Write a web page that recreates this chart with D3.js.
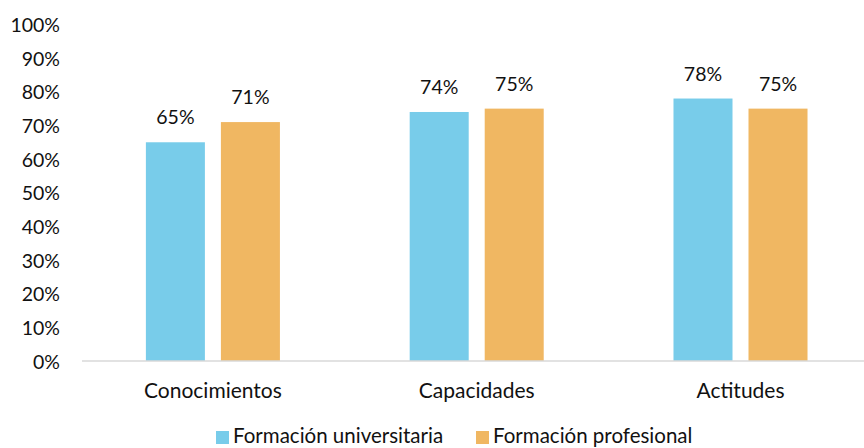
<!DOCTYPE html>
<html>
<head>
<meta charset="utf-8">
<script src="https://cdn.jsdelivr.net/npm/d3@7"></script>
<style>
  html, body { margin: 0; padding: 0; background: #fff; }
  svg { display: block; font-family: Lato, "Noto Sans", sans-serif; }
</style>
</head>
<body>
<svg id="chart" width="864" height="448"></svg>
<script>
// Competence areas and percentages for each type of training
const categories = ["Conocimientos", "Capacidades", "Actitudes"];
const seriesNames = ["Formación universitaria", "Formación profesional"];
const universitaria = [65, 74, 78];
const profesional = [71, 75, 75];
const yTicks = [0, 10, 20, 30, 40, 50, 60, 70, 80, 90, 100];
const colors = ["#78CCEA", "#F0B762"];

const seriesValues = [universitaria, profesional];
const rows = categories.map((c, i) => ({
  category: c,
  values: seriesNames.map((s, j) => ({ series: s, value: seriesValues[j][i] }))
}));

const svg = d3.select("#chart");
const W = 864;
const textColor = "#111";

const x0 = d3.scaleBand().domain(categories).range([81, 872.4]).padding(0);
const x1 = d3.scaleBand().domain(seriesNames).range([0, x0.bandwidth()])
  .paddingInner(16 / 75).paddingOuter(0.865);
const y = d3.scaleLinear().domain([0, 100]).range([361, 24.5]);
const color = d3.scaleOrdinal().domain(seriesNames).range(colors);

// Y axis labels (no line, no ticks)
const yAxis = d3.axisLeft(y).tickValues(yTicks).tickSize(0).tickPadding(0)
  .tickFormat(d => d + "%");
const yg = svg.append("g").attr("transform", "translate(60,0)").call(yAxis);
yg.select(".domain").remove();
yg.selectAll("text")
  .attr("font-family", "Lato, sans-serif")
  .attr("font-size", 19.5)
  .attr("fill", textColor)
  .attr("dy", "0.36em");

// Bars
const groups = svg.append("g").selectAll("g").data(rows).join("g")
  .attr("transform", d => `translate(${x0(d.category)},0)`);

groups.selectAll("rect").data(d => d.values).join("rect")
  .attr("x", d => x1(d.series))
  .attr("width", x1.bandwidth())
  .attr("y", d => y(d.value))
  .attr("height", d => y(0) - y(d.value))
  .attr("fill", d => color(d.series));

// Value labels
groups.selectAll("text.val").data(d => d.values).join("text")
  .attr("class", "val")
  .attr("x", d => x1(d.series) + x1.bandwidth() / 2)
  .attr("y", d => y(d.value) - 18)
  .attr("text-anchor", "middle")
  .attr("font-size", 19.5)
  .attr("fill", textColor)
  .text(d => d.value + "%");

// Category axis
const xAxis = d3.axisBottom(x0).tickSize(0).tickPadding(0);
const xg = svg.append("g").attr("transform", `translate(0,${y(0)})`).call(xAxis);
xg.select(".domain").remove();
xg.selectAll("text")
  .attr("font-family", "Lato, sans-serif")
  .attr("font-size", 21)
  .attr("fill", textColor)
  .attr("dy", null)
  .attr("y", 37);

svg.append("line")
  .attr("x1", 82).attr("x2", W)
  .attr("y1", y(0)).attr("y2", y(0))
  .attr("stroke", "#D9D9D9").attr("stroke-width", 1.5);

// Legend
const legendX = [216, 476];
const legend = svg.append("g").selectAll("g").data(seriesNames).join("g")
  .attr("transform", (d, i) => `translate(${legendX[i]},431)`);
legend.append("rect")
  .attr("width", 13).attr("height", 13)
  .attr("fill", d => color(d));
legend.append("text")
  .attr("x", 17).attr("y", 12)
  .attr("font-size", 20.5)
  .attr("fill", textColor)
  .text(d => d);
</script>
</body>
</html>
